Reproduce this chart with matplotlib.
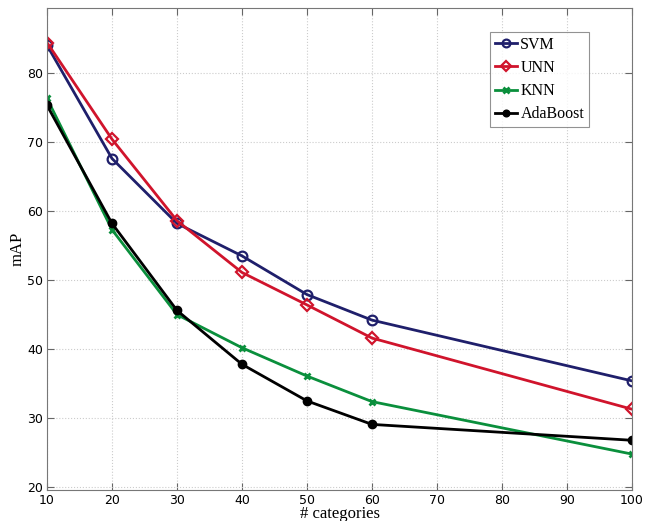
import matplotlib
matplotlib.use('Agg')
import matplotlib.pyplot as plt

# number of categories vs. mean average precision for each classifier
categories = [10, 20, 30, 40, 50, 60, 100]
svm = [84.0, 67.6, 58.2, 53.5, 47.9, 44.2, 35.4]
unn = [84.4, 70.4, 58.6, 51.1, 46.4, 41.6, 31.3]
knn = [76.3, 57.3, 45.0, 40.2, 36.1, 32.4, 24.8]
adaboost = [75.3, 58.2, 45.6, 37.8, 32.5, 29.1, 26.8]

fig = plt.figure(figsize=(6.5, 5.21), dpi=100)
ax = fig.add_axes([47 / 650, 1 - 490 / 521, 585 / 650, 482 / 521])

ax.plot(categories, svm, color='#1f1f6b', lw=2, marker='o', ms=7, mfc='none', mew=1.6, label='SVM')
ax.plot(categories, unn, color='#d0142c', lw=2, marker='D', ms=6, mfc='none', mew=1.6, label='UNN')
ax.plot(categories, knn, color='#0a8f3c', lw=2, marker='x', ms=5, mew=2, label='KNN')
ax.plot(categories, adaboost, color='black', lw=2, marker='o', ms=6, label='AdaBoost')

ax.set_xlim(10, 100)
ax.set_ylim(19.6, 89.4)
ax.set_xticks(range(10, 101, 10))
ax.set_yticks(range(20, 81, 10))
ax.grid(True, ls=':', color='#cccccc', lw=0.8)
ax.tick_params(direction='in', top=True, right=True, length=5, color='#666666', labelsize=9, pad=3)
for lbl in ax.get_xticklabels() + ax.get_yticklabels():
    lbl.set_family('DejaVu Sans')
for s in ax.spines.values():
    s.set_color('#777777')

ax.set_xlabel('# categories', family='Liberation Serif', fontsize=12, labelpad=-1)
ax.set_ylabel('mAP', family='Liberation Serif', fontsize=12, labelpad=1)

leg = ax.legend(loc='upper left', bbox_to_anchor=(443 / 585, 0.95), prop={'family': 'Liberation Serif', 'size': 11.5},
                fancybox=False, edgecolor='#777777', handlelength=1.4, handletextpad=0.2,
                labelspacing=0.45, borderpad=0.3, borderaxespad=0, markerscale=0.8)
leg.get_frame().set_linewidth(0.8)

fig.savefig('out.png', dpi=100)
